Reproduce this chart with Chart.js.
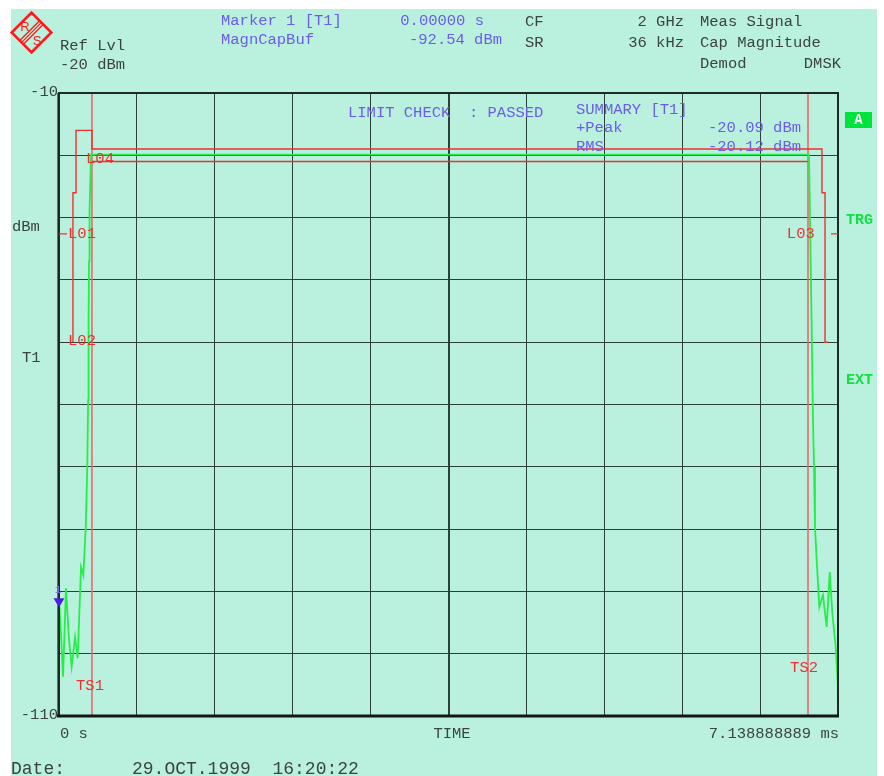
<!DOCTYPE html>
<html>
<head>
<meta charset="utf-8">
<script src="https://cdn.jsdelivr.net/npm/chart.js@4.4.1/dist/chart.umd.min.js"></script>
<style>
  html, body { margin: 0; padding: 0; background: #fff; }
  canvas { display: block; }
</style>
</head>
<body>
<canvas id="myChart" width="884" height="776"></canvas>
<script>
// trace, time in ms / level in dBm
const traceX = [0, 0.018, 0.037, 0.064, 0.092, 0.116, 0.147, 0.171, 0.202, 0.223, 0.245, 0.259, 0.267, 0.271, 0.275, 0.28, 0.293,
  1.0, 2.0, 3.0, 4.0, 5.0, 6.0, 6.873,
  6.891, 6.91, 6.919, 6.928, 6.947, 6.968, 7.001, 7.035, 7.063, 7.087, 7.118, 7.136, 7.1389];
const traceY = [-91.4, -96.7, -103.7, -89.5, -97.8, -102.1, -97.3, -100.7, -86.1, -87.4, -79.7, -70.0, -59.3, -47.0, -37.0, -28.8, -19.9,
  -19.9, -19.9, -19.9, -19.9, -19.9, -19.9, -19.9,
  -40.0, -62.5, -70.0, -79.7, -86.1, -92.5, -90.6, -95.7, -86.9, -93.5, -98.9, -104.7, -109.4];

// limit lines
const upperX = [0.128, 0.128, 0.156, 0.156, 0.302, 0.302, 6.992, 6.992, 7.02, 7.02, 7.05];
const upperY = [-50, -26, -26, -16, -16, -19, -19, -26, -26, -50, -50];
const lowerX = [0.302, 6.86];
const lowerY = [-21, -21];

// time lines TS1 / TS2
const ts1X = [0.302, 0.302];
const ts2X = [6.864, 6.864];
const tsY = [-10, -110];

// marker 1
const markerX = [0];
const markerY = [-92.54];

// axes
const xMin = 0;
const xMax = 7.138888889;
const yMin = -110;
const yMax = -10;
const yTickLabels = ["-10", "-110"];
const xTickLabels = ["0 s", "TIME", "7.138888889 ms"];

const xy = (xs, ys) => xs.map((x, i) => ({ x: x, y: ys[i] }));

const MONO = "'Liberation Mono', 'DejaVu Sans Mono', monospace";
const BLUE = "#6c5ce8";
const GREY = "#3c4442";
const RED = "#f03030";
const GRID = "#2c403a";

function txt(ctx, s, x, y, color, align, font) {
  ctx.fillStyle = color;
  ctx.textAlign = align || "left";
  ctx.textBaseline = "middle";
  ctx.font = font || "15.5px " + MONO;
  ctx.fillText(s, x, y);
}

const decor = {
  id: "decor",
  beforeDraw(chart) {
    const ctx = chart.ctx;
    ctx.save();
    ctx.fillStyle = "#ffffff";
    ctx.fillRect(0, 0, chart.width, chart.height);
    ctx.fillStyle = "#b9f1de";
    ctx.fillRect(11, 9, 866, chart.height - 9);
    ctx.restore();
  },
  afterDatasetsDraw(chart) {
    const ctx = chart.ctx;
    const a = chart.chartArea;
    const sx = chart.scales.x, sy = chart.scales.y;
    ctx.save();

    // frame
    ctx.fillStyle = "#56766c";
    ctx.fillRect(a.left - 2, a.top, 3, a.bottom - a.top);
    ctx.strokeStyle = "#1c2a26";
    ctx.lineWidth = 2;
    ctx.beginPath();
    ctx.moveTo(a.left, a.bottom);
    ctx.lineTo(a.left, a.top);
    ctx.lineTo(a.right, a.top);
    ctx.lineTo(a.right, a.bottom);
    ctx.stroke();
    ctx.lineWidth = 3;
    ctx.strokeStyle = "#111816";
    ctx.beginPath();
    ctx.moveTo(a.left - 2, a.bottom);
    ctx.lineTo(a.right + 1, a.bottom);
    ctx.stroke();

    // marker triangle, tip on the value
    const mx = sx.getPixelForValue(markerX[0]);
    const my = sy.getPixelForValue(markerY[0]);
    ctx.fillStyle = "#4a1ee6";
    ctx.beginPath();
    ctx.moveTo(mx, my);
    ctx.lineTo(mx - 5.5, my - 9);
    ctx.lineTo(mx + 5.5, my - 9);
    ctx.closePath();
    ctx.fill();
    txt(ctx, "1", mx - 1, my - 17, "#7a6cf0", "center", "11px " + MONO);

    // limit labels
    const rf = "15.5px " + MONO;
    txt(ctx, "L04", sx.getPixelForValue(0.248), sy.getPixelForValue(-20.6), RED, "left", rf);
    txt(ctx, "L01", sx.getPixelForValue(0.083), sy.getPixelForValue(-32.6), RED, "left", rf);
    txt(ctx, "L02", sx.getPixelForValue(0.083), sy.getPixelForValue(-49.8), RED, "left", rf);
    txt(ctx, "L03", sx.getPixelForValue(6.67), sy.getPixelForValue(-32.6), RED, "left", rf);
    txt(ctx, "TS1", sx.getPixelForValue(0.156), sy.getPixelForValue(-105.2), RED, "left", rf);
    txt(ctx, "TS2", sx.getPixelForValue(6.70), sy.getPixelForValue(-102.3), RED, "left", rf);
    ctx.strokeStyle = RED;
    ctx.lineWidth = 1.2;
    ctx.beginPath();
    ctx.moveTo(a.left, sy.getPixelForValue(-32.6));
    ctx.lineTo(a.left + 8, sy.getPixelForValue(-32.6));
    ctx.moveTo(a.right - 7, sy.getPixelForValue(-32.6));
    ctx.lineTo(a.right, sy.getPixelForValue(-32.6));
    ctx.stroke();

    // summary block
    txt(ctx, "LIMIT CHECK  : PASSED", 348, 113, BLUE);
    txt(ctx, "SUMMARY [T1]", 576, 110, BLUE);
    txt(ctx, "+Peak", 576, 128, BLUE);
    txt(ctx, "-20.09 dBm", 801, 128, BLUE, "right");
    txt(ctx, "RMS", 576, 147, BLUE);
    txt(ctx, "-20.12 dBm", 801, 147, BLUE, "right");
    ctx.restore();
  },
  afterDraw(chart) {
    const ctx = chart.ctx;
    const a = chart.chartArea;
    ctx.save();

    // R&S logo
    ctx.translate(31.5, 32.5);
    ctx.save();
    ctx.rotate(Math.PI / 4);
    ctx.strokeStyle = "#ff1a1a";
    ctx.lineWidth = 2.6;
    ctx.strokeRect(-14, -14, 28, 28);
    ctx.lineWidth = 1.3;
    ctx.beginPath();
    for (const d of [-2.6, 0, 2.6]) {
      ctx.moveTo(d, -14);
      ctx.lineTo(d, 14);
    }
    ctx.stroke();
    ctx.restore();
    txt(ctx, "R", -6.5, -5.5, "#ff1a1a", "center", "13px 'Liberation Sans', sans-serif");
    txt(ctx, "S", 5.5, 8.5, "#ff1a1a", "center", "13px 'Liberation Sans', sans-serif");
    ctx.setTransform(chart.currentDevicePixelRatio, 0, 0, chart.currentDevicePixelRatio, 0, 0);

    // header
    txt(ctx, "Ref Lvl", 60, 46, GREY);
    txt(ctx, "-20 dBm", 60, 65, GREY);
    txt(ctx, "Marker 1 [T1]", 221, 21, BLUE);
    txt(ctx, "MagnCapBuf", 221, 40, BLUE);
    txt(ctx, "0.00000 s", 484, 21, BLUE, "right");
    txt(ctx, "-92.54 dBm", 502, 40, BLUE, "right");
    txt(ctx, "CF", 525, 22, GREY);
    txt(ctx, "SR", 525, 43, GREY);
    txt(ctx, "2 GHz", 684, 22, GREY, "right");
    txt(ctx, "36 kHz", 684, 43, GREY, "right");
    txt(ctx, "Meas Signal", 700, 22, GREY);
    txt(ctx, "Cap Magnitude", 700, 43, GREY);
    txt(ctx, "Demod", 700, 64, GREY);
    txt(ctx, "DMSK", 841, 64, GREY, "right");

    // axis texts
    txt(ctx, yTickLabels[0], 58, a.top - 1, GREY, "right");
    txt(ctx, yTickLabels[1], 58, a.bottom - 1, GREY, "right");
    txt(ctx, "dBm", 12, 227, GREY);
    txt(ctx, "T1", 22, 358, GREY);
    txt(ctx, xTickLabels[0], 60, 734, GREY);
    txt(ctx, xTickLabels[1], 452, 734, GREY, "center");
    txt(ctx, xTickLabels[2], 839, 734, GREY, "right");
    txt(ctx, "Date:", 11, 769, GREY, "left", "18px " + MONO);
    txt(ctx, "29.OCT.1999  16:20:22", 132, 769, GREY, "left", "18px " + MONO);

    // right side flags
    ctx.fillStyle = "#00e23c";
    ctx.fillRect(845, 112, 27, 16);
    txt(ctx, "A", 858.5, 120.5, "#ffffff", "center", "bold 14px " + MONO);
    txt(ctx, "TRG", 846, 220, "#10e040", "left", "bold 15px " + MONO);
    txt(ctx, "EXT", 846, 380, "#10e040", "left", "bold 15px " + MONO);
    ctx.restore();
  }
};

const ctx = document.getElementById("myChart").getContext("2d");

const myChart = new Chart(ctx, {
  type: "line",
  data: {
    datasets: [
      {
        label: "Trace",
        data: xy(traceX, traceY),
        borderColor: "#26ee48",
        borderWidth: 1.8,
      },
      {
        label: "Lower limit",
        data: xy(lowerX, lowerY),
        borderColor: RED,
        borderWidth: 1.4,
      },
      {
        label: "Upper limit",
        data: xy(upperX, upperY),
        borderColor: RED,
        borderWidth: 1.4,
      },
      {
        label: "TS1",
        data: xy(ts1X, tsY),
        borderColor: "#e86a6a",
        borderWidth: 1.6,
      },
      {
        label: "TS2",
        data: xy(ts2X, tsY),
        borderColor: "#e86a6a",
        borderWidth: 1.6,
      },
    ],
  },
  options: {
    responsive: false,
    animation: false,
    parsing: true,
    elements: {
      point: { radius: 0, hoverRadius: 0 },
      line: { tension: 0, fill: false },
    },
    layout: { padding: { left: 59, right: 46, top: 93, bottom: 60 } },
    scales: {
      x: {
        type: "linear",
        min: xMin,
        max: xMax,
        afterBuildTicks: (s) => {
          const t = [];
          for (let i = 0; i <= 10; i++) t.push({ value: xMin + (xMax - xMin) * i / 10 });
          s.ticks = t;
        },
        ticks: { display: false },
        grid: {
          color: GRID,
          lineWidth: (c) => (c.index === 5 ? 2 : 1),
          drawTicks: false,
        },
        border: { display: false },
      },
      y: {
        type: "linear",
        min: yMin,
        max: yMax,
        afterBuildTicks: (s) => {
          const t = [];
          for (let v = yMin; v <= yMax; v += 10) t.push({ value: v });
          s.ticks = t;
        },
        ticks: { display: false },
        grid: { color: GRID, lineWidth: 1, drawTicks: false },
        border: { display: false },
      },
    },
    plugins: {
      legend: { display: false },
      tooltip: { enabled: false },
    },
  },
  plugins: [decor],
});
</script>
</body>
</html>
